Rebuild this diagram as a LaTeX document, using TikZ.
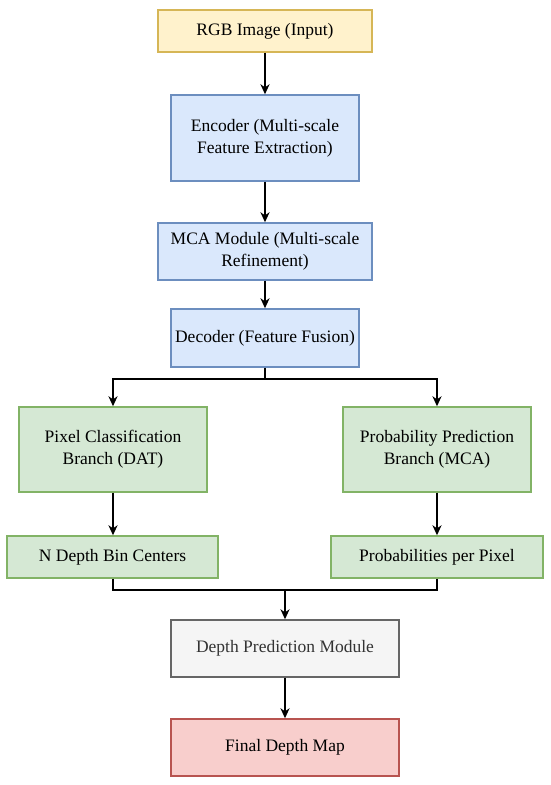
\documentclass[tikz,border=0pt]{standalone}
\usepackage{fontspec}
\setmainfont{Liberation Serif}
\usetikzlibrary{arrows.meta}
\definecolor{yelF}{HTML}{FFF2CC}\definecolor{yelD}{HTML}{D6B656}
\definecolor{bluF}{HTML}{DAE8FC}\definecolor{bluD}{HTML}{6C8EBF}
\definecolor{grnF}{HTML}{D5E8D4}\definecolor{grnD}{HTML}{82B366}
\definecolor{gryF}{HTML}{F5F5F5}\definecolor{gryD}{HTML}{666666}\definecolor{gryT}{HTML}{333333}
\definecolor{redF}{HTML}{F8CECC}\definecolor{redD}{HTML}{B85450}
\begin{document}
\begin{tikzpicture}[x=1pt,y=-1pt,
  box/.style={draw, line width=1.4pt, align=center, inner sep=0pt,
    font=\fontsize{17.5}{22}\selectfont},
  yelbox/.style={box, fill=yelF, draw=yelD},
  blubox/.style={box, fill=bluF, draw=bluD},
  grnbox/.style={box, fill=grnF, draw=grnD},
  grybox/.style={box, fill=gryF, draw=gryD, text=gryT},
  redbox/.style={box, fill=redF, draw=redD},
  arr/.style={draw=black, line width=1.6pt, -{Stealth[length=10pt,width=9pt,inset=3pt]}},
  ln/.style={draw=black, line width=1.6pt}]
\useasboundingbox (0,0) rectangle (550,785);
\node[yelbox, minimum width=214pt, minimum height=42pt] (rgb) at (265,31) {RGB Image (Input)};
\node[blubox, minimum width=188pt, minimum height=86pt] (enc) at (265,138) {Encoder (Multi-scale\\Feature Extraction)};
\node[blubox, minimum width=214pt, minimum height=57pt] (mca) at (265,251.5) {MCA Module (Multi-scale\\Refinement)};
\node[blubox, minimum width=188pt, minimum height=58pt] (dec) at (265,338) {Decoder (Feature Fusion)};
\node[grnbox, minimum width=188pt, minimum height=85pt] (pix) at (113,449.5) {Pixel Classification\\Branch (DAT)};
\node[grnbox, minimum width=188pt, minimum height=85pt] (prb) at (437,449.5) {Probability Prediction\\Branch (MCA)};
\node[grnbox, minimum width=211pt, minimum height=42pt] (nd) at (112.5,557) {N Depth Bin Centers};
\node[grnbox, minimum width=212pt, minimum height=42pt] (pp) at (437,557) {Probabilities per Pixel};
\node[grybox, minimum width=228pt, minimum height=57pt] (dp) at (285,648.5) {Depth Prediction Module};
\node[redbox, minimum width=228pt, minimum height=57pt] (fd) at (285,747.5) {Final Depth Map};
\coordinate (split) at (265,379);
\coordinate (merge) at (285,590);
\draw[arr] (rgb) -- (enc);
\draw[arr] (enc) -- (mca);
\draw[arr] (mca) -- (dec);
\draw[ln] (dec.south) -- (split);
\draw[arr] (split) -| (pix.north);
\draw[arr] (split) -| (prb.north);
\draw[arr] (pix.south) -- (pix.south |- nd.north);
\draw[arr] (prb.south) -- (prb.south |- pp.north);
\draw[ln] (pix.south |- nd.south) |- (merge);
\draw[ln] (pp.south) |- (merge);
\draw[arr] (merge) -- (dp.north);
\draw[arr] (dp) -- (fd);
\end{tikzpicture}
\end{document}
